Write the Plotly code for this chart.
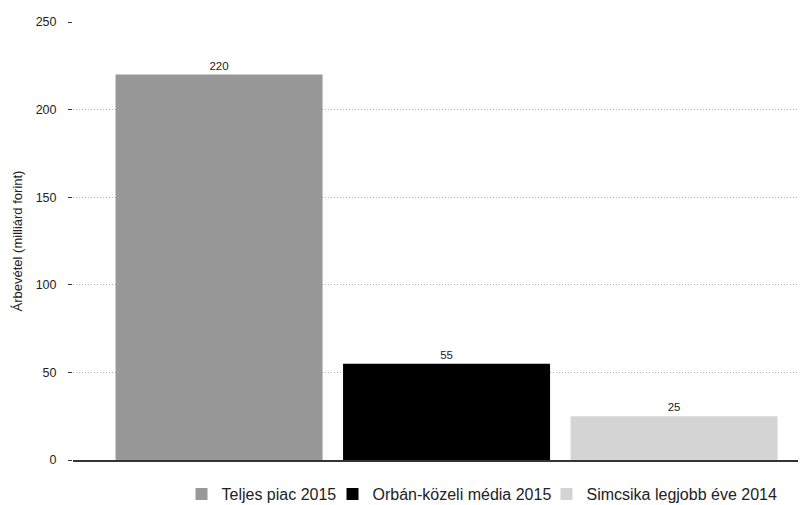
import plotly.graph_objects as go

series_names = ["Teljes piac 2015", "Orbán-közeli média 2015", "Simcsika legjobb éve 2014"]
values = [220, 55, 25]
colors = ["#989898", "#000000", "#d4d4d4"]
legend_widths = [106, 169, None]
y_ticks = [0, 50, 100, 150, 200, 250]

fig = go.Figure()
for i, (name, val, col, lw) in enumerate(zip(series_names, values, colors, legend_widths)):
    fig.add_trace(go.Bar(
        x=[i], y=[val], name=name, width=0.91,
        marker=dict(color=col, line=dict(width=0)),
        text=[str(val)], textposition="outside",
        textfont=dict(size=11.5, color="#222222"),
        cliponaxis=False,
        legendwidth=lw,
    ))

fig.update_layout(
    width=798, height=497,
    margin=dict(l=65, r=0, t=14, b=45),
    paper_bgcolor="white", plot_bgcolor="white",
    barmode="overlay",
    font=dict(family="Liberation Sans, Arial, sans-serif", color="#222222"),
    showlegend=True,
    legend=dict(orientation="h", x=0.558, xanchor="center", yref="container",
                y=0.022, yanchor="middle",
                font=dict(size=16, color="#222222"), itemwidth=30, itemsizing="constant"),
    xaxis=dict(range=[-0.642, 2.58], showticklabels=False, showgrid=False,
               zeroline=False, showline=True, linecolor="#333333", linewidth=1.5, ticks=""),
    yaxis=dict(range=[0, 250], tickvals=y_ticks, showgrid=True, gridcolor="#aaaaaa",
               griddash="1px,2px", gridwidth=1, zeroline=False, showline=False,
               ticks="outside", ticklen=4, tickcolor="#333333", ticklabelstandoff=9,
               tickfont=dict(size=12.5, color="#222222"),
               title=dict(text="Árbevétel (milliárd forint)", font=dict(size=13, color="#222222"),
                          standoff=10)),
)

fig.write_html("out.html")
